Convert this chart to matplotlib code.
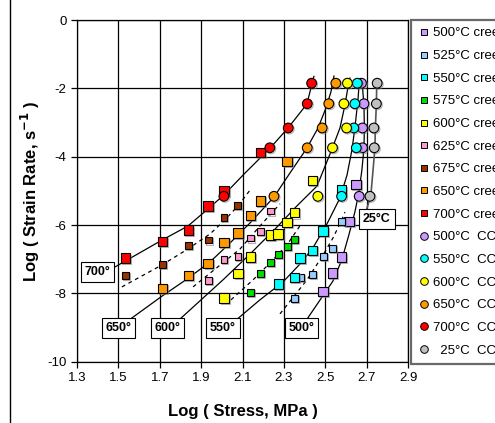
import matplotlib
matplotlib.use('Agg')
import matplotlib.pyplot as plt
import matplotlib.patheffects as pe
from matplotlib.lines import Line2D

plt.rcParams['font.family'] = 'Liberation Sans'

# creep tests: log stress (MPa) vs log minimum strain rate (1/s)
creep_500_x = [2.488, 2.535, 2.579, 2.615, 2.648]
creep_500_y = [-7.94, -7.40, -6.94, -5.90, -4.81]
creep_525_x = [2.350, 2.381, 2.437, 2.490, 2.535, 2.578]
creep_525_y = [-8.14, -7.54, -7.44, -6.91, -6.68, -5.90]
creep_550_x = [2.273, 2.350, 2.377, 2.437, 2.490, 2.578]
creep_550_y = [-7.73, -7.54, -6.97, -6.75, -6.18, -4.98]
creep_575_x = [2.139, 2.188, 2.236, 2.272, 2.316, 2.350]
creep_575_y = [-7.98, -7.42, -7.09, -6.86, -6.63, -6.43]
creep_600_x = [2.011, 2.079, 2.139, 2.236, 2.272, 2.316, 2.350, 2.437]
creep_600_y = [-8.14, -7.42, -6.94, -6.29, -6.26, -5.92, -5.64, -4.69]
creep_625_x = [1.934, 2.010, 2.078, 2.139, 2.187, 2.236]
creep_625_y = [-7.63, -7.01, -6.91, -6.38, -6.20, -5.59]
creep_675_x = [1.534, 1.713, 1.838, 1.935, 2.010, 2.077]
creep_675_y = [-7.47, -7.15, -6.61, -6.44, -5.77, -5.42]
creep_650_x = [1.712, 1.838, 1.934, 2.010, 2.078, 2.139, 2.187, 2.316]
creep_650_y = [-7.86, -7.47, -7.12, -6.51, -6.23, -5.72, -5.30, -4.14]
creep_700_x = [1.535, 1.712, 1.838, 1.934, 2.010, 2.187]
creep_700_y = [-6.97, -6.48, -6.15, -5.44, -5.00, -3.87]

# constant strain rate (CCS) tests, same imposed rates at every temperature
ccs_rate = [-5.16, -3.74, -3.16, -2.45, -1.85]
ccs_500_x = [2.664, 2.680, 2.680, 2.687, 2.675]
ccs_550_x = [2.579, 2.650, 2.638, 2.643, 2.655]
ccs_600_x = [2.464, 2.535, 2.603, 2.590, 2.607]
ccs_650_x = [2.252, 2.413, 2.485, 2.517, 2.551]
ccs_700_x = [2.010, 2.232, 2.321, 2.413, 2.434]
ccs_25_x = [2.716, 2.737, 2.735, 2.747, 2.751]

# model curves (solid = labelled temperatures, dashed = intermediate ones)
fit_700_x = [1.474, 1.711, 1.836, 1.933, 2.010, 2.112, 2.233, 2.320, 2.411, 2.445]
fit_700_y = [-7.26, -6.44, -6.03, -5.53, -5.12, -4.48, -3.75, -3.16, -2.46, -1.65]
fit_675_x = [1.517, 1.713, 1.836, 1.943, 2.010, 2.078, 2.136]
fit_675_y = [-7.81, -7.16, -6.70, -6.26, -5.88, -5.44, -4.98]
fit_650_x = [1.556, 1.711, 1.832, 1.943, 2.039, 2.141, 2.252, 2.329, 2.411, 2.465, 2.503, 2.527, 2.542]
fit_650_y = [-8.76, -8.08, -7.58, -7.08, -6.53, -5.91, -5.18, -4.48, -3.75, -3.16, -2.58, -2.11, -1.64]
fit_625_x = [1.861, 2.039, 2.088, 2.184, 2.281]
fit_625_y = [-7.81, -6.94, -6.70, -6.03, -5.38]
fit_600_x = [1.798, 1.894, 2.010, 2.136, 2.257, 2.363, 2.460, 2.527, 2.571, 2.595, 2.609, 2.619]
fit_600_y = [-8.75, -8.22, -7.58, -6.85, -6.12, -5.44, -4.86, -3.86, -3.16, -2.49, -1.99, -1.70]
fit_575_x = [2.044, 2.150, 2.233, 2.315, 2.387]
fit_575_y = [-8.19, -7.61, -7.11, -6.58, -5.94]
fit_550_x = [2.073, 2.184, 2.295, 2.378, 2.440, 2.508, 2.571, 2.605, 2.629, 2.643, 2.658, 2.665]
fit_550_y = [-8.76, -8.19, -7.67, -7.14, -6.67, -5.97, -5.21, -4.54, -3.80, -3.16, -2.34, -1.76]
fit_525_x = [2.281, 2.411, 2.489, 2.537, 2.580, 2.595]
fit_525_y = [-8.60, -7.61, -6.88, -6.38, -5.85, -5.62]
fit_500_x = [2.411, 2.537, 2.580, 2.614, 2.643, 2.662, 2.677, 2.687, 2.689, 2.687, 2.677]
fit_500_y = [-8.76, -7.64, -7.02, -6.29, -5.62, -5.06, -4.39, -3.75, -3.16, -2.49, -1.76]
fit_25_x = [2.701, 2.720, 2.735, 2.740, 2.742, 2.747, 2.749]
fit_25_y = [-5.52, -5.15, -4.10, -3.75, -3.16, -2.46, -1.76]

# temperature tags on the curves
tag_text = ['700°', '650°', '600°', '550°', '500°', '25°C']
tag_x = [1.399, 1.501, 1.737, 2.005, 2.385, 2.750]
tag_y = [-7.37, -9.02, -9.01, -9.01, -9.01, -5.82]

fig = plt.figure(figsize=(4.95, 4.23), dpi=100)
ax = fig.add_axes([0.1556, 0.1449, 0.6687, 0.8078])

for fx, fy in [(fit_700_x, fit_700_y), (fit_650_x, fit_650_y), (fit_600_x, fit_600_y),
               (fit_550_x, fit_550_y), (fit_500_x, fit_500_y)]:
    ax.plot(fx, fy, color='black', lw=0.9, zorder=3)
ax.plot(fit_25_x, fit_25_y, color='#555555', lw=1.2, zorder=3)
for fx, fy in [(fit_675_x, fit_675_y), (fit_625_x, fit_625_y),
               (fit_575_x, fit_575_y), (fit_525_x, fit_525_y)]:
    ax.plot(fx, fy, color='black', lw=0.9, ls=(0, (3, 3)), zorder=3)

shadow = [pe.SimpleLineShadow(offset=(0.8, -0.8), shadow_color='gray', alpha=0.6), pe.Normal()]

big = 6.8
small = 4.9
creep = [
    (creep_500_x, creep_500_y, '#CC99FF', big, '500°C creep'),
    (creep_525_x, creep_525_y, '#99CCFF', small, '525°C creep'),
    (creep_550_x, creep_550_y, '#00FFFF', big, '550°C creep'),
    (creep_575_x, creep_575_y, '#00DD00', small, '575°C creep'),
    (creep_600_x, creep_600_y, '#FFFF00', big, '600°C creep'),
    (creep_625_x, creep_625_y, '#FF99CC', small, '625°C creep'),
    (creep_675_x, creep_675_y, '#993300', small, '675°C creep'),
    (creep_650_x, creep_650_y, '#FF9900', big, '650°C creep'),
    (creep_700_x, creep_700_y, '#FF0000', big, '700°C creep'),
]
ccs = [
    (ccs_500_x, '#CC99FF', '500°C  CCS'),
    (ccs_550_x, '#00FFFF', '550°C  CCS'),
    (ccs_600_x, '#FFFF00', '600°C  CCS'),
    (ccs_650_x, '#FF9900', '650°C  CCS'),
    (ccs_700_x, '#FF0000', '700°C  CCS'),
    (ccs_25_x, '#C0C0C0', '  25°C  CCS'),
]

handles = []
labels = []
for xs, ys, col, ms, lab in creep:
    ax.plot(xs, ys, ls='none', marker='s', ms=ms, mfc=col, mec='black', mew=0.8, zorder=5,
            path_effects=shadow)
    handles.append(Line2D([], [], ls='none', marker='s', ms=5, mfc=col, mec='black', mew=0.7))
    labels.append(lab)
for xs, col, lab in ccs:
    ax.plot(xs, ccs_rate, ls='none', marker='o', ms=7, mfc=col, mec='black', mew=0.8, zorder=5,
            path_effects=shadow)
    handles.append(Line2D([], [], ls='none', marker='o', ms=5.5, mfc=col, mec='black', mew=0.7))
    labels.append(lab)

for t, tx, ty in zip(tag_text, tag_x, tag_y):
    ax.text(tx, ty, t, ha='center', va='center', fontsize=9, fontweight='bold', zorder=7,
            bbox=dict(boxstyle='square,pad=0.3', fc='white', ec='black', lw=0.8))

ax.set_xlim(1.3, 2.9)
ax.set_ylim(-10, 0)
ax.set_xticks([1.3, 1.5, 1.7, 1.9, 2.1, 2.3, 2.5, 2.7, 2.9])
ax.set_yticks([-10, -8, -6, -4, -2, 0])
ax.set_yticklabels(['-10', '-8', '-6', '-4', '-2', '0'])
ax.grid(True, color='black', lw=0.9)
ax.set_axisbelow(True)
ax.tick_params(direction='out', length=4, width=0.9, labelsize=9.5, colors='black')
for s in ax.spines.values():
    s.set_linewidth(0.9)

ax.set_xlabel('Log ( Stress, MPa )', fontsize=12, fontweight='bold', labelpad=14)
ax.set_ylabel('Log ( Strain Rate, s$^{\\mathbf{-1}}$ )', fontsize=12, fontweight='bold', labelpad=4)

leg = fig.legend(handles, labels, loc='upper left', bbox_to_anchor=(411 / 495, 1 - 20 / 423),
                 bbox_transform=fig.transFigure, borderaxespad=0, fontsize=9.5, frameon=True,
                 fancybox=False, handlelength=0.8, handletextpad=0.35, labelspacing=0.79,
                 borderpad=0.55)
leg.get_frame().set_edgecolor('#444444')
leg.get_frame().set_linewidth(1.6)

# outer chart border
fig.add_artist(Line2D([10 / 495, 10 / 495], [0, 1], color='black', lw=1.0, transform=fig.transFigure))

fig.savefig('out.png', dpi=100)
